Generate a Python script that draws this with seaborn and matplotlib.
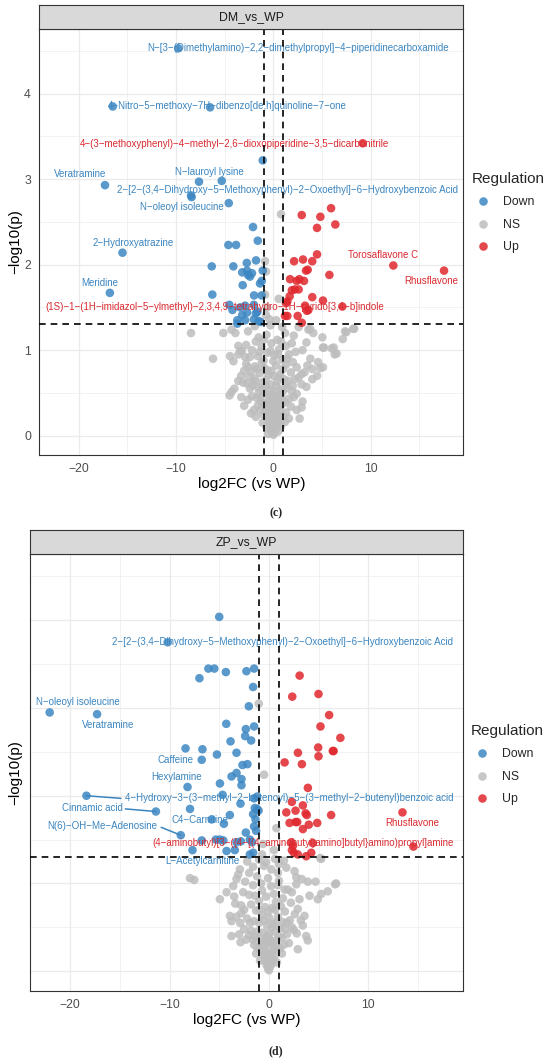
import pandas as pd
import matplotlib
matplotlib.use("Agg")
import matplotlib.pyplot as plt
import seaborn as sns

# ---------------- DM_vs_WP : (log2FC, -log10 p) ----------------
dm_down = [(-9.76, 4.53), (-16.5, 3.85), (-6.5, 3.84), (-1.09, 3.22), (-7.64, 2.97),
           (-5.3, 2.98), (-17.3, 2.93), (-8.46, 2.81), (-8.40, 2.79), (-4.58, 2.72),
           (-2.09, 2.44), (-15.5, 2.14), (-1.6, 2.28), (-4.62, 2.23), (-3.83, 2.23),
           (-6.33, 1.98), (-4.11, 1.98), (-2.73, 2.02), (-1.78, 2.05), (-1.09, 1.93),
           (-3.2, 1.91), (-2.6, 1.88), (-2.2, 1.90), (-2.7, 1.93), (-2.4, 1.86),
           (-1.19, 1.81), (-1.37, 1.78), (-3.15, 1.76), (-6.27, 1.65), (-16.8, 1.67),
           (-1.98, 1.64), (-1.2, 1.64), (-4.52, 1.53), (-2.9, 1.52), (-2.0, 1.53),
           (-4.2, 1.47), (-2.7, 1.44), (-1.8, 1.43), (-3.2, 1.41), (-3.7, 1.35),
           (-2.9, 1.35), (-2.0, 1.36), (-1.5, 1.34), (-3.7, 1.31), (-1.3, 1.33),
           (-3.42, 1.50), (-1.64, 1.45)]
dm_up = [(9.19, 3.42), (2.92, 2.58), (4.83, 2.56), (5.93, 2.66), (4.49, 2.43),
         (6.37, 2.47), (2.13, 2.04), (3.05, 2.06), (4.0, 2.04), (4.49, 2.12),
         (3.36, 1.93), (3.53, 1.94), (5.76, 1.88), (1.72, 1.83), (2.4, 1.81),
         (3.15, 1.81), (2.67, 1.83), (1.9, 1.70), (2.2, 1.71), (2.6, 1.71),
         (4.0, 1.62), (5.1, 1.58), (1.44, 1.57), (1.68, 1.63), (3.26, 1.52),
         (3.6, 1.47), (7.09, 1.51), (1.2, 1.40), (1.44, 1.40), (2.5, 1.40),
         (2.92, 1.32), (12.33, 1.99), (17.54, 1.93), (1.3, 1.55), (3.45, 1.46)]
dm_ns = [(0.0, 0.01), (0.1, 0.03), (-0.1, 0.04), (0.2, 0.06), (-0.2, 0.07), (0.05, 0.09),
         (-0.3, 0.1), (0.3, 0.11), (0.15, 0.13), (-0.15, 0.14), (0.4, 0.15), (-0.45, 0.16),
         (0.0, 0.17), (0.25, 0.19), (-0.3, 0.2), (0.55, 0.21), (-0.6, 0.22), (0.1, 0.23),
         (-0.1, 0.25), (0.35, 0.26), (-0.5, 0.27), (0.7, 0.28), (-0.8, 0.29), (1.0, 0.22),
         (-1.0, 0.24), (1.3, 0.27), (-1.4, 0.3), (-1.8, 0.22), (1.6, 0.2), (2.7, 0.2),
         (-2.3, 0.26),
         (0.0, 0.32), (0.3, 0.33), (-0.3, 0.34), (0.6, 0.35), (-0.7, 0.36), (0.9, 0.37),
         (-1.0, 0.38), (1.2, 0.39), (-1.3, 0.4), (0.15, 0.41), (-0.2, 0.42), (1.6, 0.43),
         (-1.7, 0.44), (2.1, 0.45), (-2.2, 0.46), (0.5, 0.47), (-0.6, 0.48), (2.4, 0.49),
         (-2.6, 0.42), (-3.3, 0.45), (-4.5, 0.47), (-4.3, 0.51), (3.0, 0.4), (2.9, 0.33),
         (-3.0, 0.35),
         (0.1, 0.52), (-0.4, 0.53), (0.8, 0.54), (-1.1, 0.55), (1.4, 0.56), (-1.6, 0.57),
         (2.0, 0.58), (-2.1, 0.59), (2.9, 0.6), (-2.7, 0.61), (-3.1, 0.62), (-3.6, 0.64),
         (0.4, 0.63), (-0.8, 0.65), (1.1, 0.66), (4.0, 0.66), (-1.9, 0.67), (2.6, 0.68),
         (4.5, 0.7), (-2.5, 0.69), (0.0, 0.7), (-4.0, 0.55), (3.4, 0.57),
         (-0.5, 0.71), (0.7, 0.72), (2.9, 0.72), (-1.4, 0.73), (1.8, 0.74), (3.2, 0.74),
         (-2.3, 0.75), (-3.0, 0.76), (4.0, 0.78), (-0.9, 0.79), (4.8, 0.79), (5.1, 0.8),
         (2.4, 0.8), (-1.9, 0.81), (0.3, 0.82), (1.3, 0.83), (-2.8, 0.84), (4.6, 0.86),
         (-4.1, 0.87), (-3.6, 0.95), (-4.45, 0.93), (-6.2, 0.9), (-1.0, 0.88), (0.9, 0.89),
         (-3.25, 0.99), (-3.4, 0.99), (-2.4, 0.92), (-1.6, 0.93), (0.1, 0.94), (1.6, 0.95),
         (6.3, 0.95), (6.5, 0.96), (-0.6, 0.97), (2.3, 0.98), (-2.2, 1.0), (5.1, 1.03),
         (6.0, 1.02), (6.2, 1.03), (5.2, 1.03), (0.6, 1.01), (-1.2, 1.04), (1.3, 1.05),
         (-2.8, 1.06), (3.4, 1.09), (-0.2, 1.08),
         (-8.46, 1.2), (-5.14, 1.2), (-4.3, 1.24), (-3.9, 1.2), (-2.6, 1.22), (-1.5, 1.15),
         (-0.7, 1.18), (0.4, 1.12), (1.2, 1.2), (2.1, 1.17), (3.6, 1.24), (4.1, 1.2),
         (3.77, 1.25), (5.04, 1.15), (7.13, 1.13), (7.37, 1.22), (7.5, 1.21), (8.2, 1.25),
         (8.3, 1.25), (-1.9, 1.28), (0.9, 1.27), (2.6, 1.27), (-0.3, 1.29),
         (0.79, 2.59), (-0.85, 2.04), (-0.75, 1.92), (-0.85, 1.65), (0.55, 1.6),
         (-0.75, 1.41), (-0.65, 1.5), (0.3, 1.35), (-0.4, 1.36),
         # dense core
         (0.05, 0.05), (-0.05, 0.12), (0.2, 0.16), (-0.25, 0.18), (0.45, 0.24), (-0.4, 0.3),
         (0.2, 0.36), (-0.55, 0.4), (0.7, 0.44), (-0.9, 0.5), (1.0, 0.52), (0.3, 0.58),
         (-0.3, 0.6), (-1.2, 0.62), (1.5, 0.64), (0.6, 0.68), (-0.6, 0.76), (1.0, 0.78),
         (-1.2, 0.85), (0.0, 0.87), (1.4, 0.9), (-0.3, 0.99), (0.8, 1.1), (-1.0, 1.12),
         (-0.1, 0.48), (-0.8, 0.58), (0.8, 0.46), (-1.5, 0.5), (1.9, 0.52), (-2.4, 0.55),
         (2.2, 0.66), (-1.7, 0.78), (-0.2, 0.76), (0.5, 0.95), (1.9, 1.08), (-1.8, 1.1),
         (-3.6, 1.05), (3.0, 1.0), (-2.9, 0.92), (3.8, 0.9), (-0.55, 0.02), (0.5, 0.05),
         (-0.7, 0.1), (0.8, 0.12), (-1.1, 0.15), (1.2, 0.16), (0.0, 0.27), (-1.6, 0.35),
         (2.4, 0.3), (0.05, 0.38), (-2.0, 0.3), (1.8, 0.34), (-1.3, 0.46), (1.3, 0.6),
         (-2.0, 0.64), (-3.3, 0.7), (2.0, 0.86), (-2.6, 0.8), (3.5, 0.82), (-1.4, 0.98)]

dm_lab_text = ["N\u2212[3\u2212(Dimethylamino)\u22122,2\u2212dimethylpropyl]\u22124\u2212piperidinecarboxamide",
               "4\u2212Nitro\u22125\u2212methoxy\u22127H\u2212dibenzo[de,h]quinoline\u22127\u2212one",
               "4\u2212(3\u2212methoxyphenyl)\u22124\u2212methyl\u22122,6\u2212dioxopiperidine\u22123,5\u2212dicarbonitrile",
               "Veratramine",
               "N\u2212lauroyl lysine",
               "2\u2212[2\u2212(3,4\u2212Dihydroxy\u22125\u2212Methoxyphenyl)\u22122\u2212Oxoethyl]\u22126\u2212Hydroxybenzoic Acid",
               "N\u2212oleoyl isoleucine",
               "2\u2212Hydroxyatrazine",
               "Meridine",
               "(1S)\u22121\u2212(1H\u2212imidazol\u22125\u2212ylmethyl)\u22122,3,4,9\u2212tetrahydro\u22121H\u2212pyrido[3,4\u2212b]indole",
               "Torosaflavone C",
               "Rhusflavone"]
dm_lab_x = [2.57, -4.7, -3.99, -19.9, -6.59, 1.43, -9.38, -14.44, -17.86, -6.07, 11.3, 16.24]
dm_lab_y = [4.53, 3.85, 3.41, 3.06, 3.08, 2.87, 2.67, 2.25, 1.79, 1.50, 2.11, 1.81]
dm_lab_reg = ["Down", "Down", "Up", "Down", "Down", "Down", "Down", "Down", "Down", "Up", "Up", "Up"]

# ---------------- ZP_vs_WP ----------------
zp_down = [(-5.01, 4.04), (-10.2, 3.75), (-6.1, 3.45), (-5.5, 3.45), (-7.0, 3.34),
           (-4.34, 3.41), (-2.27, 3.42), (-1.5, 3.45), (-1.6, 3.24), (-2.03, 3.02),
           (-22.07, 2.95), (-17.3, 2.93), (-4.3, 2.82), (-2.33, 2.76), (-1.5, 2.79),
           (-2.4, 2.68), (-1.8, 2.63), (-3.87, 2.62), (-8.4, 2.54), (-6.7, 2.53),
           (-3.27, 2.49), (-5.24, 2.47), (-6.77, 2.41), (-2.67, 2.35), (-2.17, 2.36),
           (-3.77, 2.22), (-3.27, 2.26), (-2.77, 2.19), (-2.77, 2.12), (-4.94, 2.14),
           (-8.2, 2.10), (-18.37, 2.0), (-4.67, 2.01), (-2.87, 1.91), (-1.5, 1.97),
           (-1.2, 1.99), (-1.43, 1.86), (-1.2, 1.85), (-1.05, 1.83), (-11.38, 1.82),
           (-7.95, 1.85), (-3.94, 1.78), (-4.54, 1.68), (-5.77, 1.73), (-1.6, 1.79),
           (-1.36, 1.73), (-1.5, 1.65), (-1.3, 1.6), (-2.33, 1.58), (-8.88, 1.55),
           (-6.77, 1.49), (-4.94, 1.50), (-4.6, 1.49), (-3.27, 1.47), (-2.83, 1.48),
           (-1.93, 1.50), (-1.7, 1.47), (-5.34, 1.50), (-7.7, 1.38), (-4.27, 1.37),
           (-3.44, 1.38), (-1.93, 1.33), (-1.6, 1.35)]
zp_up = [(3.08, 3.37), (2.34, 3.13), (4.98, 3.16), (6.05, 2.92), (5.18, 2.79),
         (7.18, 2.66), (4.95, 2.55), (6.42, 2.51), (6.5, 2.51), (2.91, 2.49),
         (4.98, 2.45), (1.57, 2.38), (3.31, 2.36), (3.91, 2.09), (2.3, 1.93),
         (3.41, 1.89), (1.74, 1.81), (2.67, 1.83), (3.68, 1.80), (3.8, 1.78),
         (2.67, 1.70), (2.84, 1.70), (2.07, 1.69), (4.0, 1.67), (4.85, 1.69),
         (3.41, 1.62), (6.25, 1.78), (2.24, 1.47), (2.41, 1.43), (2.3, 1.38),
         (2.5, 1.35), (2.9, 1.33), (3.74, 1.31), (4.25, 1.35), (4.41, 1.46),
         (13.43, 1.81), (14.53, 1.42)]
zp_ns = [(0.0, 0.01), (-0.1, 0.03), (0.1, 0.05), (-0.25, 0.07), (0.25, 0.08), (0.0, 0.1),
         (-0.4, 0.12), (0.4, 0.13), (0.15, 0.15), (-0.15, 0.16), (0.6, 0.18), (-0.6, 0.19),
         (0.0, 0.2), (0.3, 0.22), (-0.35, 0.23), (0.8, 0.24), (-0.9, 0.25), (1.1, 0.26),
         (-1.2, 0.27), (0.5, 0.28), (-0.5, 0.29), (2.9, 0.25), (-1.5, 0.3), (1.5, 0.3),
         (-0.1, 0.31), (2.0, 0.32),
         (0.2, 0.34), (-0.3, 0.35), (0.8, 0.36), (-0.9, 0.37), (1.3, 0.38), (-1.4, 0.39),
         (-2.87, 0.33), (3.74, 0.4), (3.9, 0.35), (-3.77, 0.4), (2.8, 0.43), (2.5, 0.47),
         (-2.0, 0.41), (1.8, 0.42), (0.0, 0.43), (-0.6, 0.44), (0.6, 0.45), (-1.8, 0.46),
         (-2.5, 0.48), (1.1, 0.49),
         (3.4, 0.52), (3.57, 0.63), (-0.2, 0.52), (0.4, 0.54), (-1.0, 0.55), (1.4, 0.56),
         (-1.5, 0.57), (-3.94, 0.63), (-3.77, 0.57), (2.1, 0.58), (-2.2, 0.6), (0.0, 0.61),
         (0.9, 0.62), (-0.7, 0.64), (2.6, 0.65), (-2.8, 0.66), (1.6, 0.68), (-1.3, 0.69),
         (2.9, 0.71), (-3.4, 0.77), (-2.8, 0.75), (-2.5, 0.70), (0.3, 0.72), (-0.4, 0.73),
         (1.2, 0.74), (-1.8, 0.76), (2.2, 0.78), (0.7, 0.79), (-1.0, 0.8), (3.07, 0.82),
         (-4.94, 0.82), (4.08, 0.86), (4.91, 0.82), (5.25, 0.88), (5.91, 0.91), (-4.27, 0.9),
         (1.57, 0.93), (1.9, 0.93), (-0.3, 0.85), (-2.0, 0.87), (0.5, 0.88),
         (-3.6, 0.97), (-3.27, 1.05), (6.75, 1.0), (6.65, 0.99), (3.91, 1.02), (4.68, 1.02),
         (2.74, 1.07), (2.74, 0.99), (-7.95, 1.06), (-7.52, 1.04), (-1.6, 0.98), (-0.8, 1.0),
         (0.2, 0.97), (1.0, 1.03), (-2.4, 1.02), (-1.2, 1.08),
         (-2.93, 1.16), (-3.1, 1.10), (1.74, 1.18), (2.57, 1.14), (0.24, 1.16), (-0.5, 1.2),
         (1.0, 1.22), (-1.6, 1.19), (-2.2, 1.25), (5.25, 1.28), (5.15, 1.29), (0.6, 1.28),
         (-1.0, 1.27), (1.5, 1.26),
         (-1.03, 3.05), (-0.5, 2.24), (0.74, 1.63), (-0.6, 1.45), (0.5, 1.38), (-0.7, 1.33),
         # dense core
         (0.05, 0.06), (-0.2, 0.1), (0.3, 0.14), (-0.5, 0.2), (0.45, 0.32), (-0.7, 0.32),
         (-0.2, 0.4), (1.0, 0.4), (-1.2, 0.45), (0.3, 0.5), (-0.5, 0.58), (0.7, 0.56),
         (1.8, 0.55), (-1.9, 0.55), (-2.9, 0.55), (2.3, 0.5), (-0.1, 0.68), (0.6, 0.7),
         (-1.0, 0.7), (1.4, 0.83), (-1.4, 0.86), (-0.7, 0.92), (0.9, 0.98), (-2.6, 0.9),
         (2.3, 0.9), (-0.1, 1.06), (-3.0, 0.42), (-3.3, 0.62), (3.2, 0.58), (-1.6, 0.36),
         (1.6, 0.48), (-2.3, 0.36), (0.0, 0.38), (-0.9, 0.12), (0.8, 0.1), (1.3, 0.2),
         (-1.3, 0.2), (-3.5, 0.85), (3.3, 1.05), (-2.0, 1.12), (0.9, 1.12), (-0.3, 1.24)]

zp_lab_text = ["2\u2212[2\u2212(3,4\u2212Dihydroxy\u22125\u2212Methoxyphenyl)\u22122\u2212Oxoethyl]\u22126\u2212Hydroxybenzoic Acid",
               "N\u2212oleoyl isoleucine",
               "Veratramine",
               "Caffeine",
               "Hexylamine",
               "4\u2212Hydroxy\u22123\u2212(3\u2212methyl\u22122\u2212butenoyl)\u22125\u2212(3\u2212methyl\u22122\u2212butenyl)benzoic acid",
               "Cinnamic acid",
               "C4\u2212Carnitine",
               "N(6)\u2212OH\u2212Me\u2212Adenosine",
               "(4\u2212aminobutyl)[3\u2212({4\u2212[(4\u2212aminobutyl)amino]butyl}amino)propyl]amine",
               "Rhusflavone",
               "L\u2212Acetylcarnitine"]
zp_lab_x = [1.4, -19.19, -16.23, -9.38, -9.27, 2.02, -17.77, -6.99, -16.76, 3.41, 14.43, -6.69]
zp_lab_y = [3.75, 3.07, 2.81, 2.41, 2.21, 1.97, 1.86, 1.72, 1.66, 1.46, 1.69, 1.26]
zp_lab_reg = ["Down", "Down", "Down", "Down", "Down", "Down", "Down", "Down", "Down", "Up", "Up", "Down"]

# repel segments: labelled point -> label edge
zp_seg_pt = [(-18.37, 2.0), (-11.38, 1.82), (-8.88, 1.55)]
zp_seg_end = [(-14.9, 1.97), (-14.46, 1.85), (-10.85, 1.64)]

pal = {"Down": "#3C87C3", "NS": "#BDBDBD", "Up": "#E0282E"}
txt_col = {"Down": "#3A85C0", "Up": "#DA2A30"}


def make_df(down, ns, up):
    rows = ([(x, y, "NS") for x, y in ns] + [(x, y, "Down") for x, y in down]
            + [(x, y, "Up") for x, y in up])
    return pd.DataFrame(rows, columns=["log2FC", "logp", "Regulation"])


sns.set_theme(style="white")
plt.rcParams["font.family"] = ["Liberation Sans", "DejaVu Sans"]

W, H = 550, 1062
fig = plt.figure(figsize=(W / 100, H / 100), dpi=100)


def box(x0, y0, x1, y1):
    return [x0 / W, 1 - y1 / H, (x1 - x0) / W, (y1 - y0) / H]


def panel(ax_px, strip_px, title, df, texts, tx, ty, treg, leg_px, show_y, ylab_x):
    ax = fig.add_axes(box(*ax_px))
    sns.scatterplot(data=df, x="log2FC", y="logp", hue="Regulation",
                    hue_order=["Down", "NS", "Up"], palette=pal, s=38, alpha=0.85,
                    linewidth=0, ax=ax, zorder=2)
    for t, x, y, r in zip(texts, tx, ty, treg):
        ax.text(x, y, t, ha="center", va="center", fontsize=7, color=txt_col[r], zorder=3)
    for v in (-1, 1):
        ax.axvline(v, color="black", ls=(0, (4, 3)), lw=1.2, zorder=4)
    ax.axhline(1.301, color="black", ls=(0, (4, 3)), lw=1.2, zorder=4)

    ax.set_xlim(-24.05, 19.52)
    ax.set_ylim(-0.2265, 4.7565)
    ax.set_xticks([-20, -10, 0, 10])
    ax.set_xticks([-15, -5, 5, 15], minor=True)
    ax.set_yticks([0, 1, 2, 3, 4])
    ax.set_yticks([0.5, 1.5, 2.5, 3.5, 4.5], minor=True)
    ax.set_axisbelow(True)
    ax.grid(True, which="major", color="#EBEBEB", lw=0.9)
    ax.grid(True, which="minor", color="#EBEBEB", lw=0.45)
    ax.tick_params(which="major", length=3, width=0.8, color="#333333",
                   labelcolor="#4D4D4D", labelsize=8.8, pad=3)
    ax.tick_params(which="minor", length=0)
    if not show_y:
        ax.tick_params(axis="y", which="major", length=0, labelleft=False)
    for sp in ax.spines.values():
        sp.set_color("#333333")
        sp.set_linewidth(0.8)

    ax.set_xlabel("log2FC (vs WP)", fontsize=11, color="black")
    ax.set_ylabel("\u2212log10(p)", fontsize=11, color="black")
    hpx = ax_px[3] - ax_px[1]
    wpx = ax_px[2] - ax_px[0]
    ax.xaxis.set_label_coords(0.5, -22 / hpx)
    ax.yaxis.set_label_coords((ylab_x - ax_px[0]) / wpx, 0.5)

    sns.move_legend(ax, "upper left", bbox_to_anchor=(leg_px[0] / W, 1 - leg_px[1] / H),
                    bbox_transform=fig.transFigure, frameon=False, title="Regulation",
                    title_fontsize=11, fontsize=8.8, borderaxespad=0, borderpad=0,
                    handlelength=1.8, handletextpad=0.8, labelspacing=0.85,
                    alignment="left")

    sax = fig.add_axes(box(*strip_px))
    sax.set_facecolor("#D9D9D9")
    sax.set_xticks([])
    sax.set_yticks([])
    for sp in sax.spines.values():
        sp.set_color("#333333")
        sp.set_linewidth(0.8)
    sax.text(0.5, 0.5, title, ha="center", va="center", fontsize=8.8,
             color="#1A1A1A", transform=sax.transAxes)
    return ax


ax1 = panel((39.3, 29, 463.3, 455), (39.3, 5, 463.3, 29), "DM_vs_WP",
            make_df(dm_down, dm_ns, dm_up), dm_lab_text, dm_lab_x, dm_lab_y, dm_lab_reg,
            (471.7, 172), True, 22)
ax2 = panel((30, 554, 463, 991), (30, 530, 463, 554), "ZP_vs_WP",
            make_df(zp_down, zp_ns, zp_up), zp_lab_text, zp_lab_x, zp_lab_y, zp_lab_reg,
            (470.7, 724), False, 22)

for (px, py), (ex, ey) in zip(zp_seg_pt, zp_seg_end):
    ax2.plot([px, ex], [py, ey], color=txt_col["Down"], lw=1.1, zorder=2.5)

fig.text(276 / W, 1 - 513.5 / H, "(c)", ha="center", va="center",
         family="Liberation Serif", weight="bold", fontsize=8.5)
fig.text(276 / W, 1 - 1051 / H, "(d)", ha="center", va="center",
         family="Liberation Serif", weight="bold", fontsize=8.5)

fig.savefig("out.png", dpi=100)
